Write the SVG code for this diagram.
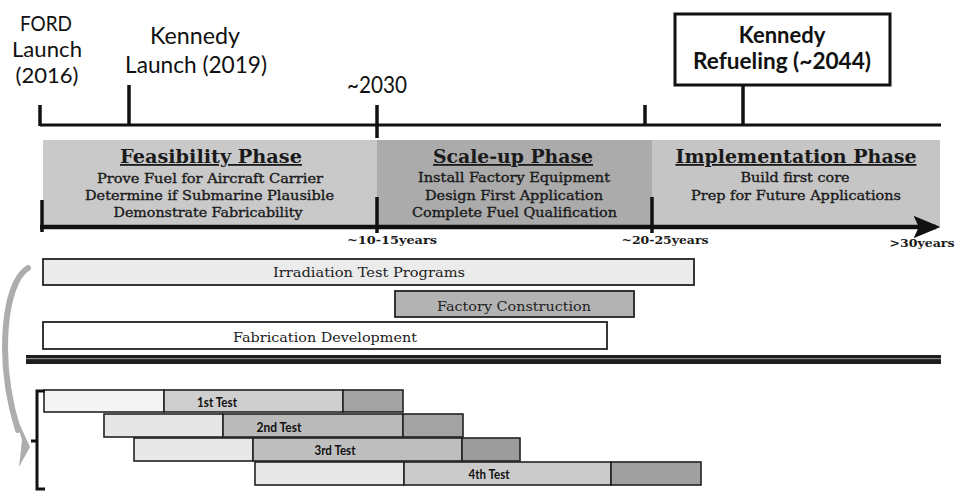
<svg xmlns="http://www.w3.org/2000/svg" width="957" height="493" viewBox="0 0 957 493">
<defs>
<style>
.top{font-family:Lato,"Open Sans","Liberation Sans",sans-serif;font-size:23px;fill:#111;text-anchor:middle}
.ford{font-family:Lato,"Open Sans","Liberation Sans",sans-serif;font-size:20.5px;fill:#111;text-anchor:middle}
.topb{font-family:Lato,"Open Sans","Liberation Sans",sans-serif;font-size:22px;font-weight:bold;fill:#111;text-anchor:middle}
.title{font-family:"DejaVu Serif","Liberation Serif",serif;font-size:18px;font-weight:bold;fill:#1a1a1a;text-anchor:middle;text-decoration:underline}
.sub{font-family:"DejaVu Serif","Liberation Serif",serif;font-size:13px;fill:#1a1a1a;stroke:#1a1a1a;stroke-width:0.35;text-anchor:middle}
.yr{font-family:"DejaVu Serif","Liberation Serif",serif;font-size:11.5px;font-weight:bold;fill:#1a1a1a;text-anchor:middle}
.bar{stroke:#222;stroke-width:1.8}
.blab{font-family:"DejaVu Serif","Liberation Serif",serif;font-size:13.5px;fill:#222;text-anchor:middle}
.tlab{font-family:Lato,"Open Sans","Liberation Sans",sans-serif;font-size:12.5px;font-weight:bold;fill:#111;text-anchor:middle}
.ln{stroke:#111;stroke-width:3;fill:none}
.tk{stroke:#111;stroke-width:3.5}
.seg{stroke:#222;stroke-width:1.6}
</style>
<marker id="ah" markerWidth="6" markerHeight="5" refX="5" refY="2.5" orient="auto" markerUnits="strokeWidth">
<path d="M0,0 L6,2.5 L0,5 L1.2,2.5 Z" fill="#111"/>
</marker>
</defs>
<rect width="957" height="493" fill="#ffffff"/>

<!-- phase band -->
<g id="phases">
<g id="feasibility">
<rect x="43" y="140" width="334" height="86" fill="#c9c9c9"/>
<text class="title" x="211" y="163" textLength="182" lengthAdjust="spacingAndGlyphs">Feasibility Phase</text>
<text class="sub" x="210" y="183" textLength="226" lengthAdjust="spacingAndGlyphs">Prove Fuel for Aircraft Carrier</text>
<text class="sub" x="209.5" y="200" textLength="249" lengthAdjust="spacingAndGlyphs">Determine if Submarine Plausible</text>
<text class="sub" x="208" y="217" textLength="189" lengthAdjust="spacingAndGlyphs">Demonstrate Fabricability</text>
</g>
<g id="scaleup">
<rect x="377" y="140" width="275" height="86" fill="#ababab"/>
<text class="title" x="513" y="163" textLength="160" lengthAdjust="spacingAndGlyphs">Scale-up Phase</text>
<text class="sub" x="514" y="182" textLength="192" lengthAdjust="spacingAndGlyphs">Install Factory Equipment</text>
<text class="sub" x="514" y="200" textLength="178" lengthAdjust="spacingAndGlyphs">Design First Application</text>
<text class="sub" x="514.5" y="217" textLength="205" lengthAdjust="spacingAndGlyphs">Complete Fuel Qualification</text>
</g>
<g id="implementation">
<rect x="652" y="140" width="288" height="86" fill="#c5c5c5"/>
<text class="title" x="796" y="163" textLength="241" lengthAdjust="spacingAndGlyphs">Implementation Phase</text>
<text class="sub" x="795" y="182" textLength="109" lengthAdjust="spacingAndGlyphs">Build first core</text>
<text class="sub" x="796" y="200" textLength="210" lengthAdjust="spacingAndGlyphs">Prep for Future Applications</text>
</g>
</g>

<!-- top labels -->
<g id="ford">
<text class="ford" x="46" y="31" textLength="52" lengthAdjust="spacingAndGlyphs">FORD</text>
<text class="ford" x="47" y="57" textLength="70" lengthAdjust="spacingAndGlyphs">Launch</text>
<text class="ford" x="47" y="83" textLength="63" lengthAdjust="spacingAndGlyphs">(2016)</text>
</g>
<g id="kennedy-launch">
<text class="top" x="195" y="44" textLength="90" lengthAdjust="spacingAndGlyphs">Kennedy</text>
<text class="top" x="196" y="73" textLength="142" lengthAdjust="spacingAndGlyphs">Launch (2019)</text>
</g>
<g id="y2030">
<text class="top" x="377" y="93" textLength="60" lengthAdjust="spacingAndGlyphs">~2030</text>
</g>
<g id="kennedy-refuel">
<rect x="675" y="14" width="215" height="71" fill="#ffffff" stroke="#111" stroke-width="3"/>
<text class="topb" x="782" y="43">Kennedy</text>
<text class="topb" x="782" y="69" textLength="178" lengthAdjust="spacingAndGlyphs">Refueling (~2044)</text>
</g>

<!-- year labels -->
<g id="years">
<text class="yr" x="392" y="244" textLength="90" lengthAdjust="spacingAndGlyphs">~10-15years</text>
<text class="yr" x="665" y="244" textLength="87" lengthAdjust="spacingAndGlyphs">~20-25years</text>
<text class="yr" x="922" y="247" textLength="65" lengthAdjust="spacingAndGlyphs">&gt;30years</text>
</g>

<!-- program bars -->
<g id="irradiation">
<rect class="bar" x="43" y="259" width="651" height="26" fill="#ebebeb"/>
<text class="blab" x="369" y="277" textLength="192" lengthAdjust="spacingAndGlyphs">Irradiation Test Programs</text>
</g>
<g id="factory">
<rect class="bar" x="395" y="291" width="239" height="26" fill="#b3b3b3"/>
<text class="blab" x="514" y="311" textLength="154" lengthAdjust="spacingAndGlyphs">Factory Construction</text>
</g>
<g id="fabrication">
<rect class="bar" x="43" y="322" width="564" height="27" fill="#ffffff"/>
<text class="blab" x="325" y="342" textLength="184" lengthAdjust="spacingAndGlyphs">Fabrication Development</text>
</g>

<!-- separator -->
<g id="separator">
<rect x="26" y="355" width="915" height="9" fill="#1e1e1e"/>
<rect x="26" y="358" width="915" height="1.2" fill="#8a8a8a"/>
</g>

<!-- tests -->
<g id="test1">
<rect class="seg" x="44" y="390" width="120" height="22" fill="#f4f4f4"/>
<rect class="seg" x="164" y="390" width="179" height="22" fill="#cfcfcf"/>
<rect class="seg" x="343" y="390" width="60" height="22" fill="#a3a3a3"/>
<text class="tlab" x="217" y="407" textLength="40" lengthAdjust="spacingAndGlyphs">1st Test</text>
</g>
<g id="test2">
<rect class="seg" x="104" y="414" width="119" height="23" fill="#e6e6e6"/>
<rect class="seg" x="223" y="414" width="180" height="23" fill="#bababa"/>
<rect class="seg" x="403" y="414" width="60" height="23" fill="#a3a3a3"/>
<text class="tlab" x="279" y="432" textLength="45" lengthAdjust="spacingAndGlyphs">2nd Test</text>
</g>
<g id="test3">
<rect class="seg" x="134" y="438" width="119" height="23" fill="#e8e8e8"/>
<rect class="seg" x="253" y="438" width="209" height="23" fill="#bebebe"/>
<rect class="seg" x="462" y="438" width="58" height="23" fill="#9c9c9c"/>
<text class="tlab" x="335" y="455" textLength="41" lengthAdjust="spacingAndGlyphs">3rd Test</text>
</g>
<g id="test4">
<rect class="seg" x="255" y="462" width="149" height="23" fill="#e8e8e8"/>
<rect class="seg" x="404" y="462" width="207" height="23" fill="#cbcbcb"/>
<rect class="seg" x="611" y="462" width="90" height="23" fill="#a0a0a0"/>
<text class="tlab" x="489" y="479" textLength="41" lengthAdjust="spacingAndGlyphs">4th Test</text>
</g>

<!-- connectors -->
<g id="connectors">
<path class="ln" d="M40,125 H941"/>
<path class="tk" d="M40,105 V126"/>
<path class="tk" d="M129,85 V126"/>
<path class="tk" d="M377,105 V138"/>
<path class="tk" d="M645,105 V126"/>
<path class="tk" d="M743,85 V126"/>
<path d="M40,227 H936" stroke="#111" stroke-width="4.5" fill="none" marker-end="url(#ah)"/>
<path class="tk" d="M42,200 V232" stroke-width="4"/>
<path class="tk" d="M377,197 V233" stroke-width="4"/>
<path class="tk" d="M652,197 V233" stroke-width="4"/>
<path d="M45,391 H37 V489 H45 M37,441 H31" stroke="#111" stroke-width="3" fill="none"/>
<path d="M28,268 C4,282 -4,360 18,430" stroke="#adadad" stroke-width="6" fill="none" stroke-linecap="round"/>
<path d="M13,410 L30,447 L19,467 L22,440 Z" fill="#adadad"/>
</g>
</svg>
